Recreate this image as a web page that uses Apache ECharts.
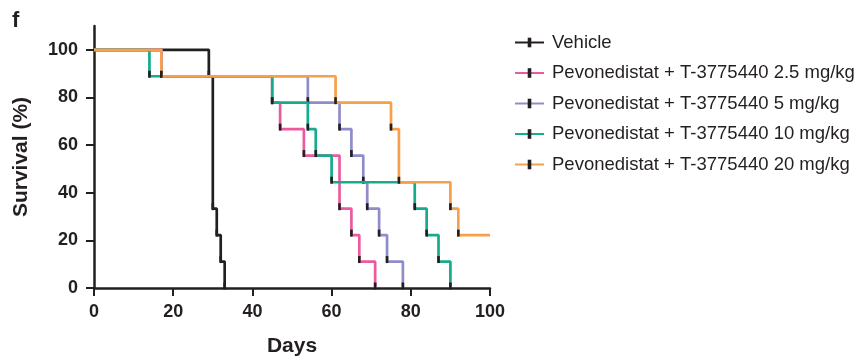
<!DOCTYPE html>
<html>
<head>
<meta charset="utf-8">
<script src="https://cdn.jsdelivr.net/npm/echarts@6/dist/echarts.min.js"></script>
<style>
  html, body { margin: 0; padding: 0; background: #fff; }
  #chart { width: 856px; height: 362px; }
</style>
</head>
<body>
<div id="chart"></div>
<script>
// Kaplan-Meier steps: day of each drop and survival (%) after it
const vehicleDays = [0, 29, 30, 31, 32, 33];
const vehicleSurv = [100, 88.9, 33.3, 22.2, 11.1, 0];

const dose25Days = [0, 17, 45, 47, 53, 62, 65, 67, 71];
const dose25Surv = [100, 88.9, 77.8, 66.7, 55.6, 33.3, 22.2, 11.1, 0];

const dose5Days = [0, 17, 54, 62, 65, 68, 69, 72, 74, 78];
const dose5Surv = [100, 88.9, 77.8, 66.7, 55.6, 44.4, 33.3, 22.2, 11.1, 0];

const dose10Days = [0, 14, 45, 54, 56, 60, 81, 84, 87, 90];
const dose10Surv = [100, 88.9, 77.8, 66.7, 55.6, 44.4, 33.3, 22.2, 11.1, 0];

const dose20Days = [0, 17, 61, 75, 77, 90, 92, 100];
const dose20Surv = [100, 88.9, 77.8, 66.7, 44.4, 33.3, 22.2, 22.2];

const groupNames = [
  'Vehicle',
  'Pevonedistat + T-3775440 2.5 mg/kg',
  'Pevonedistat + T-3775440 5 mg/kg',
  'Pevonedistat + T-3775440 10 mg/kg',
  'Pevonedistat + T-3775440 20 mg/kg'
];
const groupColors = ['#231f20', '#ec5a9e', '#8e8ccb', '#16ab8c', '#f6a04b'];

const yTicks = [0, 20, 40, 60, 80, 100];
const xTicks = [0, 20, 40, 60, 80, 100];

const chart = echarts.init(document.getElementById('chart'));
const FONT = '"Liberation Sans", Arial, sans-serif';
const INK = '#231f20';
// thin upright bar inside a square box (the corner dots only fix the bounds),
// so it stays thin in the legend too
const TICK = 'path://M2.5,0 L5.5,0 L5.5,8 L2.5,8 Z M0,0 L0,0 M8,8 L8,8';

function steps(days, surv) {
  return days.map((d, i) => {
    const pt = { value: [d, surv[i]] };
    // no tick at the start, nor on a flat tail
    if (i === 0 || surv[i] === surv[i - 1]) pt.symbol = 'none';
    return pt;
  });
}

const groups = [
  [vehicleDays, vehicleSurv],
  [dose25Days, dose25Surv],
  [dose5Days, dose5Surv],
  [dose10Days, dose10Surv],
  [dose20Days, dose20Surv]
];

const series = groups.map((g, i) => ({
  name: groupNames[i],
  type: 'line',
  step: 'end',
  data: steps(g[0], g[1]),
  symbol: TICK,
  symbolSize: 7,
  symbolOffset: [0, -2],
  showSymbol: true,
  itemStyle: { color: INK },
  lineStyle: { color: groupColors[i], width: 2.7 },
  animation: false,
  z: 2 + i
}));

chart.setOption({
  backgroundColor: '#fff',
  graphic: [{
    type: 'text', left: 12, top: 10,
    style: { text: 'f', font: 'bold 22px ' + FONT, fill: INK }
  }],
  legend: {
    orient: 'vertical',
    left: 509,
    top: 28,
    itemWidth: 29,
    itemHeight: 12,
    itemGap: 11.5,
    data: groupNames,
    textStyle: { fontFamily: FONT, fontSize: 18.5, color: INK, padding: [0, 0, 0, 3] }
  },
  grid: { left: 94, right: 366, top: 26, bottom: 72 },
  xAxis: {
    type: 'value', min: 0, max: 100, interval: 20,
    name: 'Days', nameLocation: 'middle', nameGap: 48,
    nameTextStyle: { fontFamily: FONT, fontWeight: 'bold', fontSize: 21, color: INK },
    axisLine: { show: true, onZero: false, lineStyle: { color: INK, width: 2.5 } },
    axisTick: { show: true, length: 8, lineStyle: { color: INK, width: 2 }, customValues: xTicks },
    axisLabel: { fontFamily: FONT, fontWeight: 'bold', fontSize: 18, color: INK, margin: 15, customValues: xTicks },
    splitLine: { show: false }
  },
  yAxis: {
    type: 'value', min: 0, max: 110,
    name: 'Survival (%)', nameLocation: 'middle', nameGap: 62,
    nameTextStyle: { fontFamily: FONT, fontWeight: 'bold', fontSize: 21, color: INK },
    axisLine: { show: true, onZero: false, lineStyle: { color: INK, width: 2.5 } },
    axisTick: { show: true, length: 8, lineStyle: { color: INK, width: 2 }, customValues: yTicks },
    axisLabel: { fontFamily: FONT, fontWeight: 'bold', fontSize: 18, color: INK, margin: 16, customValues: yTicks },
    splitLine: { show: false }
  },
  series: series
});
</script>
</body>
</html>
